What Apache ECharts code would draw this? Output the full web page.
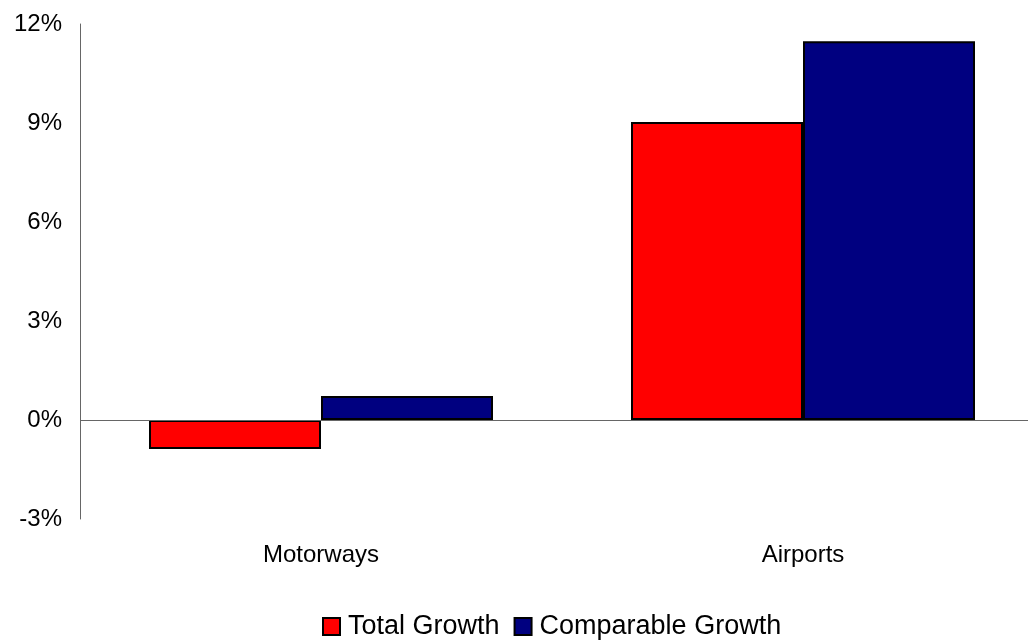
<!DOCTYPE html>
<html>
<head>
<meta charset="utf-8">
<script src="https://cdn.jsdelivr.net/npm/echarts@6/dist/echarts.min.js"></script>
<style>
  html, body { margin: 0; padding: 0; background: #fff; overflow: hidden; }
  /* the plot runs slightly past the right edge of the window */
  #chart { width: 1044px; height: 644px; }
</style>
</head>
<body>
<div id="chart"></div>
<script>
// Growth by business segment, in percent
const categories = ['Motorways', 'Airports'];
const totalGrowth = [-0.88, 9.03];
const comparableGrowth = [0.73, 11.48];
const seriesNames = ['Total Growth', 'Comparable Growth'];

const font = '"Liberation Sans", Arial, sans-serif';
const chart = echarts.init(document.getElementById('chart'), null, { renderer: 'canvas' });

chart.setOption({
  backgroundColor: '#ffffff',
  animation: false,
  grid: { left: 80, top: 24, bottom: 125, right: 0, containLabel: false },
  legend: {
    data: seriesNames,
    left: 317,
    top: 608,
    itemWidth: 17,
    itemHeight: 17,
    itemGap: 14,
    textStyle: { fontFamily: font, fontSize: 27, color: '#000', padding: [0, 0, 0, 3] },
    icon: 'rect'
  },
  xAxis: {
    type: 'category',
    data: categories,
    axisLine: { show: false, onZero: false },
    axisTick: { show: false },
    axisLabel: { fontFamily: font, fontSize: 24, color: '#000', margin: 24 }
  },
  yAxis: {
    type: 'value',
    min: -3,
    max: 12,
    interval: 3,
    axisLine: { show: true, lineStyle: { color: '#666666', width: 1 } },
    axisTick: { show: false },
    splitLine: { show: false },
    axisLabel: {
      fontFamily: font, fontSize: 24, color: '#000', margin: 18,
      formatter: '{value}%'
    }
  },
  series: [
    {
      name: seriesNames[0],
      type: 'bar',
      data: totalGrowth,
      barWidth: 172,
      barGap: '0%',
      itemStyle: { color: '#ff0000', borderColor: '#000', borderWidth: 2 },
      markLine: {
        silent: true,
        symbol: 'none',
        label: { show: false },
        lineStyle: { color: '#666666', width: 1, type: 'solid' },
        data: [{ yAxis: 0 }]
      }
    },
    {
      name: seriesNames[1],
      type: 'bar',
      data: comparableGrowth,
      barWidth: 172,
      barGap: '0%',
      itemStyle: { color: '#000080', borderColor: '#000', borderWidth: 2 }
    }
  ]
});
</script>
</body>
</html>
